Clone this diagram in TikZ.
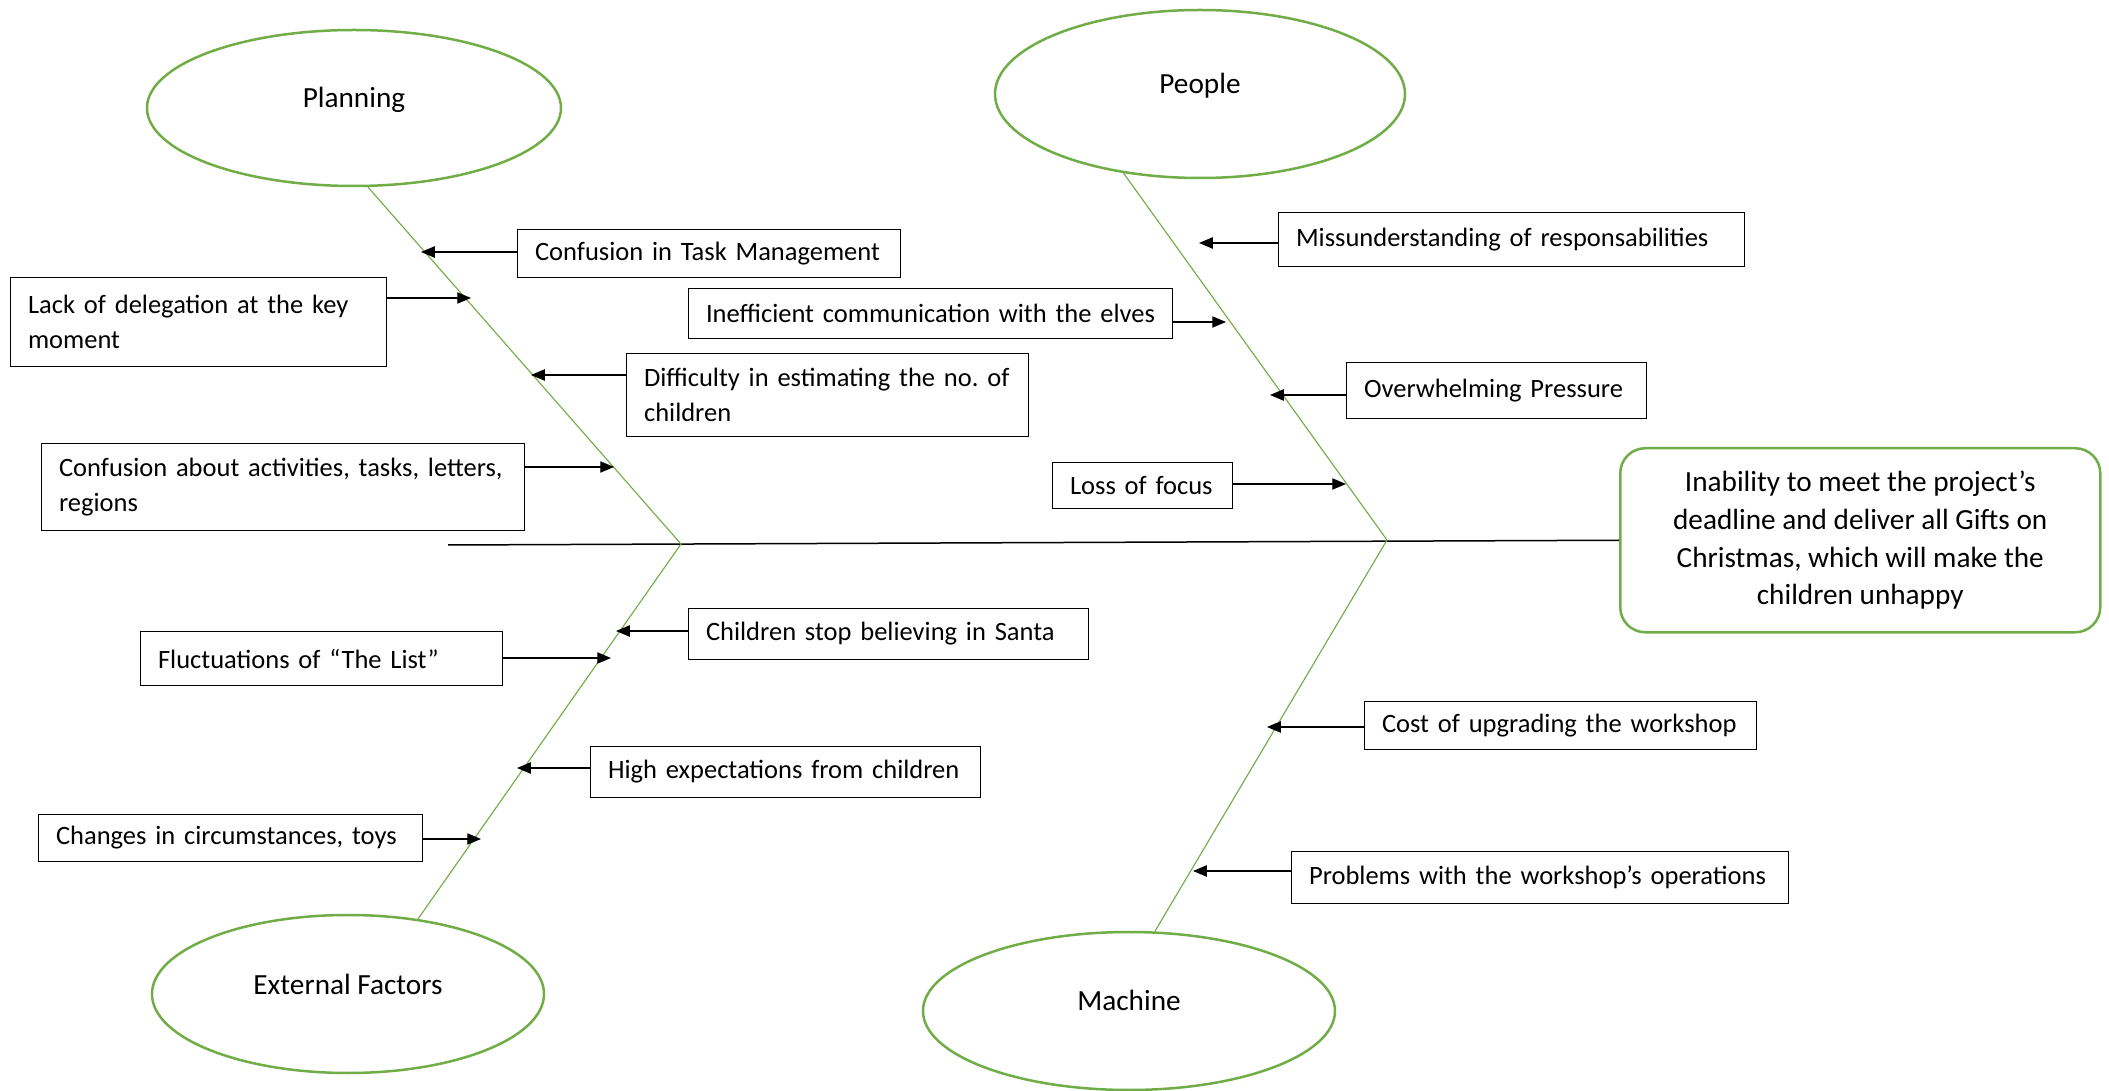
\documentclass[tikz,border=0pt]{standalone}
\usepackage{fontspec}
\setmainfont{Carlito}
\usepackage{xcolor}
\usepackage{tikz}
\usetikzlibrary{shapes.geometric,arrows.meta}
\definecolor{fishgreen}{HTML}{70AD47}

\begin{document}
\frenchspacing
\begin{tikzpicture}[x=0.4pt,y=-0.4pt,
    cat/.style={draw=fishgreen,line width=1pt,ellipse,inner sep=0pt,text height=6pt,text depth=6pt,font=\fontsize{11.7}{14}\selectfont},
    cause/.style={draw,line width=0.45pt,rectangle,inner xsep=7pt,inner ysep=0pt,anchor=north west,align=left,font=\fontsize{10.6}{14.2}\selectfont},
    bone/.style={fishgreen,line width=0.45pt},
    arr/.style={-{Triangle[length=5.5pt,width=4.5pt]},line width=0.5pt}]
  \useasboundingbox (0,0) rectangle (2109,1091);
  \node[cat,minimum width=165.6pt,minimum height=62.4pt] (plan) at (354,108) {Planning};
  \node[cat,minimum width=164pt,minimum height=67.2pt] (people) at (1200,94) {People};
  \node[cat,minimum width=156.8pt,minimum height=63.2pt] (ext) at (348,994) {External Factors};
  \node[cat,minimum width=164.8pt,minimum height=63.2pt] (mach) at (1129,1011) {Machine};
  \node[draw=fishgreen,line width=1pt,rounded corners=10pt,anchor=north west,minimum width=192pt,minimum height=73.6pt,align=center,font=\fontsize{11.7}{15.1}\selectfont] (effect) at (1619,447) {Inability to meet the project’s\\deadline and deliver all Gifts on\\Christmas, which will make the\\children unhappy};
  \coordinate (tail) at (448,545);
  \coordinate (jl) at (681,544);
  \coordinate (jr) at (1387,540);
  \draw[line width=0.6pt] (tail) -- (effect.west);
  \draw[bone] (plan.-80) -- (jl);
  \draw[bone] (jl) -- (ext.47);
  \draw[bone] (people.-134) -- (jr);
  \draw[bone] (jr) -- (mach.72);
  \node[cause,text width=139.2pt,minimum height=19.2pt] (task) at (517,229) {Confusion in Task Management};
  \node[cause,text width=136.4pt,minimum height=35.6pt] (deleg) at (10,277) {Lack of delegation at the key\\moment};
  \node[cause,text width=146.8pt,minimum height=33.2pt] (estim) at (626,353) {Difficulty in estimating the no.\ of\\children};
  \node[cause,text width=179.2pt,minimum height=34.8pt] (activ) at (41,443) {Confusion about activities, tasks, letters,\\regions};
  \node[cause,text width=172.4pt,minimum height=21.6pt] (resp) at (1278,212) {Missunderstanding of responsabilities};
  \node[cause,text width=179.6pt,minimum height=20pt] (comm) at (688,288) {Inefficient communication with the elves};
  \node[cause,text width=106pt,minimum height=22.4pt] (press) at (1346,362) {Overwhelming Pressure};
  \node[cause,text width=58pt,minimum height=18.4pt] (focus) at (1052,462) {Loss of focus};
  \node[cause,text width=130.8pt,minimum height=21.6pt] (list) at (140,631) {Fluctuations of “The List”};
  \node[cause,text width=146pt,minimum height=20.4pt] (santa) at (688,608) {Children stop believing in Santa};
  \node[cause,text width=142pt,minimum height=20.4pt] (expect) at (590,746) {High expectations from children};
  \node[cause,text width=139.6pt,minimum height=18.8pt] (toys) at (38,814) {Changes in circumstances, toys};
  \node[cause,text width=142.8pt,minimum height=19.2pt] (cost) at (1364,701) {Cost of upgrading the workshop};
  \node[cause,text width=184.8pt,minimum height=20.8pt] (ops) at (1291,851) {Problems with the workshop’s operations};
  \coordinate (t1) at (421,252);
  \coordinate (t2) at (471,298);
  \coordinate (t3) at (531,375);
  \coordinate (t4) at (614,467);
  \coordinate (t5) at (1199,243);
  \coordinate (t6) at (1226,322);
  \coordinate (t7) at (1270,395);
  \coordinate (t8) at (1346,484);
  \coordinate (t9) at (611,658);
  \coordinate (t10) at (616,631);
  \coordinate (t11) at (517,768);
  \coordinate (t12) at (481,839);
  \coordinate (t13) at (1267,727);
  \coordinate (t14) at (1193,871);
  \draw[arr] (task.west |- t1) -- (t1);
  \draw[arr] (deleg.east |- t2) -- (t2);
  \draw[arr] (estim.west |- t3) -- (t3);
  \draw[arr] (activ.east |- t4) -- (t4);
  \draw[arr] (resp.west |- t5) -- (t5);
  \draw[arr] (comm.east |- t6) -- (t6);
  \draw[arr] (press.west |- t7) -- (t7);
  \draw[arr] (focus.east |- t8) -- (t8);
  \draw[arr] (list.east |- t9) -- (t9);
  \draw[arr] (santa.west |- t10) -- (t10);
  \draw[arr] (expect.west |- t11) -- (t11);
  \draw[arr] (toys.east |- t12) -- (t12);
  \draw[arr] (cost.west |- t13) -- (t13);
  \draw[arr] (ops.west |- t14) -- (t14);
\end{tikzpicture}
\end{document}
